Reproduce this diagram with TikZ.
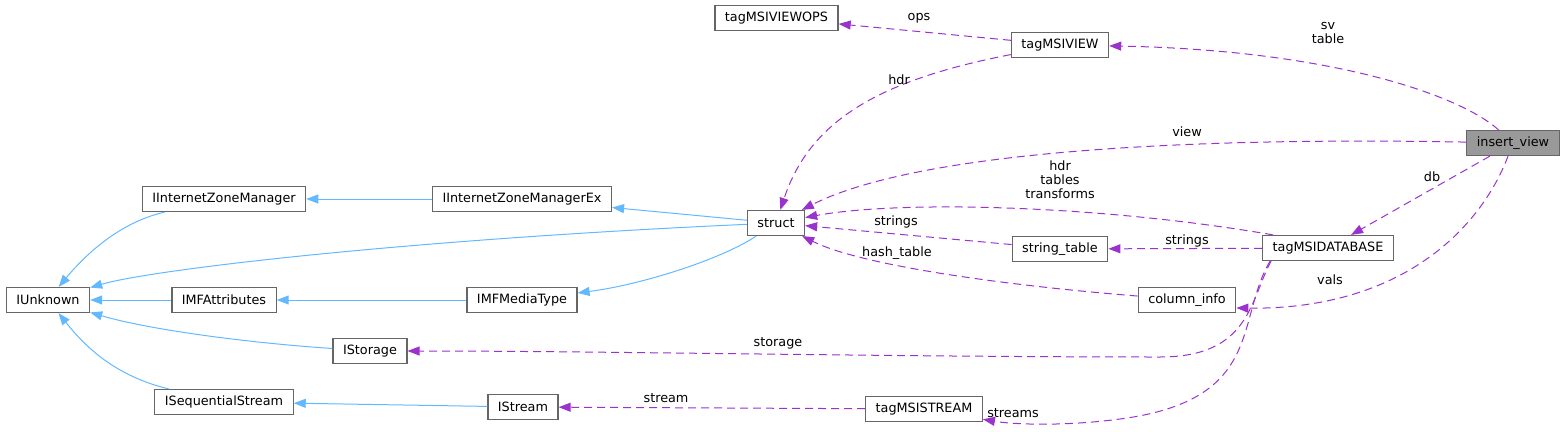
\documentclass[tikz,border=0pt]{standalone}
\usepackage{fontspec}
\setmainfont{DejaVu Sans}
\usetikzlibrary{arrows.meta}
\definecolor{inhblue}{HTML}{63B8FF}
\definecolor{usepurple}{HTML}{9A32CD}
\definecolor{boxgray}{HTML}{666666}
\definecolor{mainfill}{HTML}{999999}

\begin{document}
\begin{tikzpicture}[x=1pt, y=-1pt, >={Triangle[length=12pt,width=9pt]},
  cls/.style={draw=boxgray, line width=1.2pt, rectangle, fill=white, minimum height=25pt, inner xsep=10pt, font=\fontsize{12.8}{15}\selectfont},
  mainbox/.style={cls, fill=mainfill},
  inh/.style={->, inhblue, line width=1pt},
  usage/.style={->, usepurple, line width=1pt, dash pattern=on 8pt off 5pt},
  lbl/.style={font=\fontsize{12.8}{14}\selectfont, align=center, inner sep=0pt}]
\useasboundingbox (0,0) rectangle (1568,431);

% classes
\node[mainbox] (iview) at (1513,143) {insert\_view};
\node[cls] (viewops) at (776.5,18) {tagMSIVIEWOPS};
\node[cls] (msiview) at (1060,45) {tagMSIVIEW};
\node[cls] (izm) at (224,199) {IInternetZoneManager};
\node[cls] (izmex) at (522,199) {IInternetZoneManagerEx};
\node[cls] (struct) at (776,223) {struct};
\node[cls] (msidb) at (1328,248) {tagMSIDATABASE};
\node[cls] (strtab) at (1060,249) {string\_table};
\node[cls] (unk) at (48,300) {IUnknown};
\node[cls] (mfattr) at (224,300) {IMFAttributes};
\node[cls] (mfmedia) at (522,300) {IMFMediaType};
\node[cls] (colinfo) at (1187,300) {column\_info};
\node[cls] (stor) at (370,351) {IStorage};
\node[cls] (iseq) at (224,402) {ISequentialStream};
\node[cls] (istream) at (523,407) {IStream};
\node[cls] (msistream) at (924,409) {tagMSISTREAM};

% inheritance
\draw[inh] (izm) .. controls (120,222) and (85,255) .. (unk);
\draw[inh] (izmex) -- (izm);
\draw[inh] (struct) .. controls (400,240) and (150,270) .. (unk);
\draw[inh] (struct) -- (izmex);
\draw[inh] (struct) .. controls (720,260) and (640,285) .. (mfmedia);
\draw[inh] (mfattr) -- (unk);
\draw[inh] (mfmedia) -- (mfattr);
\draw[inh] (stor) .. controls (250,343) and (150,330) .. (unk);
\draw[inh] (iseq) .. controls (110,375) and (80,340) .. (unk);
\draw[inh] (istream) -- (iseq);

% usage
\draw[usage] (msiview) -- (viewops);
\node[lbl] (lops) at (919,18) {ops};
\draw[usage] (msiview) .. controls (880,80) and (810,120) .. (struct);
\node[lbl] (lhdr) at (899,80) {hdr};
\draw[usage] (iview) .. controls (1460,95) and (1330,50) .. (msiview);
\node[lbl] (lsv) at (1328,33) {sv\\table};
\draw[usage] (iview) .. controls (1200,137) and (920,150) .. (struct);
\node[lbl] (lview) at (1187,132) {view};
\draw[usage] (iview) -- (msidb);
\node[lbl] (ldb) at (1432,177) {db};
\draw[usage] (iview) .. controls (1480,230) and (1400,310) .. ([yshift=-8pt]colinfo.east);
\node[lbl] (lvals) at (1330,280) {vals};
\draw[usage] ([xshift=11pt]msidb.north west) .. controls (1100,205) and (900,200) .. (struct);
\node[lbl] (ltables) at (1060,180) {hdr\\tables\\transforms};
\draw[usage] (msidb) -- (strtab);
\node[lbl] (lstr1) at (1187,241) {strings};
\draw[usage] (strtab) -- (struct);
\node[lbl] (lstr2) at (896,222) {strings};
\draw[usage] (colinfo) .. controls (1000,285) and (860,265) .. (struct);
\node[lbl] (lhash) at (897,253) {hash\_table};
\draw[usage] ([xshift=9pt]msidb.south west) .. controls (1250,300) and (1250,357) .. (1160,357)
  .. controls (900,357) and (600,351) .. (stor);
\node[lbl] (lstor) at (778,343) {storage};
\draw[usage] ([xshift=8pt]msidb.south west) .. controls (1235,320) and (1265,400) .. (1120,419)
  .. controls (1060,427) and (1010,424) .. (msistream);
\node[lbl] (lstreams) at (1013,413) {streams};
\draw[usage] (msistream) -- (istream);
\node[lbl] (lstream) at (666,398) {stream};
\end{tikzpicture}
\end{document}
